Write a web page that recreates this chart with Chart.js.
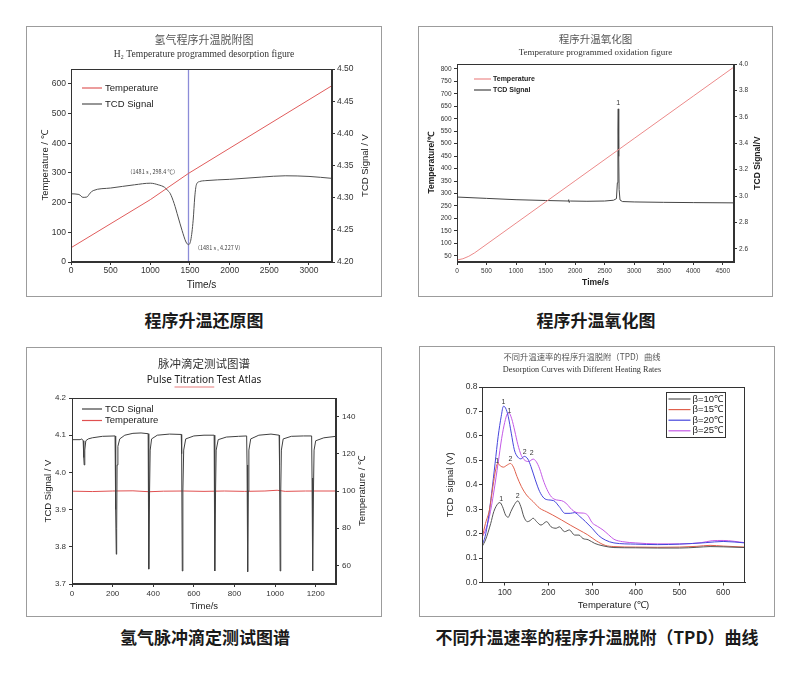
<!DOCTYPE html>
<html lang="zh">
<head>
<meta charset="utf-8">
<title>程序升温图谱</title>
<script src="https://cdn.jsdelivr.net/npm/chart.js@4.4.1/dist/chart.umd.min.js"></script>
<style>
html,body{margin:0;padding:0;background:#fff;}
body{width:800px;height:675px;position:relative;overflow:hidden;}
.panel{position:absolute;}
.cap{position:absolute;width:360px;text-align:center;font-family:"Noto Sans CJK SC",sans-serif;font-weight:bold;font-size:17px;line-height:20px;color:#1a1a1a;}
</style>
</head>
<body>
<div class="panel" style="left:26px;top:26px;width:356px;height:271px"><canvas id="c1"></canvas></div>
<div class="panel" style="left:418px;top:26px;width:355px;height:271px"><canvas id="c2"></canvas></div>
<div class="panel" style="left:26px;top:347px;width:356px;height:270px"><canvas id="c3"></canvas></div>
<div class="panel" style="left:419px;top:346px;width:356px;height:271px"><canvas id="c4"></canvas></div>
<div class="cap" style="left:24px;top:310px">程序升温还原图</div>
<div class="cap" style="left:416px;top:310px">程序升温氧化图</div>
<div class="cap" style="left:25px;top:627px">氢气脉冲滴定测试图谱</div>
<div class="cap" style="left:417px;top:627px">不同升温速率的程序升温脱附（TPD）曲线</div>
<script>
// ================= DATA =================
// Panel 1 : H2 TPD
const p1XTicks = [0, 500, 1000, 1500, 2000, 2500, 3000];
const p1YTicks = [0, 100, 200, 300, 400, 500, 600];
const p1Y1Ticks = [4.20, 4.25, 4.30, 4.35, 4.40, 4.45, 4.50];
const p1TempTime = [0, 1000, 1481, 3290];
const p1Temp = [48, 210, 298.4, 594];
const p1TcdTime = [0,100,150,200,240,280,500,800,1000,1100,1180,1220,1250,1300,1350,1400,1450,1481,1510,1540,1560,1580,1620,1700,2000,2400,2700,3000,3290];
const p1Tcd = [4.306,4.305,4.3005,4.301,4.307,4.311,4.315,4.320,4.3225,4.320,4.316,4.311,4.3066,4.291,4.270,4.249,4.231,4.227,4.234,4.265,4.301,4.320,4.325,4.3265,4.3285,4.332,4.334,4.333,4.330];
const p1PeakTime = 1481, p1PeakTemp = 298.4, p1PeakTcd = 4.227;

// Panel 2 : TPO
const p2XTicks = [0, 500, 1000, 1500, 2000, 2500, 3000, 3500, 4000, 4500];
const p2YTicks = [50,100,150,200,250,300,350,400,450,500,550,600,650,700,750,800];
const p2Y1Ticks = [2.6, 2.8, 3.0, 3.2, 3.4, 3.6, 3.8, 4.0];
const p2TempTime = [0,100,200,300,1000,2000,3000,4000,4690];
const p2Temp = [33,38,48,62,181,351,521,691,808];
const p2TcdTime = [0,500,1000,1500,1885,1892,1897,1903,1920,2200,2500,2650,2700,2715,2725,2730,2738,2745,2760,2800,3000,3500,4000,4690];
const p2Tcd = [2.992,2.982,2.972,2.966,2.962,2.972,2.952,2.958,2.962,2.960,2.962,2.968,2.98,3.1,3.5,3.66,3.3,3.05,2.97,2.958,2.955,2.952,2.95,2.948];
const p2PeakTime = 2730, p2PeakTcd = 3.66;

// Panel 3 : pulse titration
const p3XTicks = [0, 200, 400, 600, 800, 1000, 1200];
const p3YTicks = [3.7, 3.8, 3.9, 4.0, 4.1, 4.2];
const p3Y1Ticks = [60, 80, 100, 120, 140];
const p3Time = [0,40,48,55,58,60,63,68,80,100,150,212,214,216,218,220,222,226,235,260,300,340,375,377,379,382,385,392,420,480,538,540,543,546,550,560,600,650,700,702,704,707,710,720,760,820,860,862,865,868,871,880,920,980,1020,1022,1025,1028,1031,1040,1080,1140,1180,1182,1184,1186,1189,1192,1200,1240,1300];
const p3Tcd = [4.088,4.088,4.09,4.085,4.04,4.02,4.06,4.085,4.09,4.093,4.097,4.098,4.08,3.90,3.78,3.85,4.02,4.07,4.09,4.10,4.105,4.106,4.104,4.0,3.74,3.95,4.06,4.09,4.10,4.103,4.102,4.05,3.735,3.95,4.06,4.09,4.098,4.10,4.10,4.0,3.735,3.95,4.06,4.088,4.095,4.097,4.098,4.02,3.733,3.95,4.06,4.09,4.10,4.103,4.10,4.02,3.735,3.95,4.06,4.09,4.097,4.098,4.098,3.985,3.98,3.735,3.95,4.06,4.085,4.093,4.097];
const p3TempTime = [0,100,200,300,380,450,550,650,750,850,950,1010,1050,1150,1300];
const p3Temp = [99.9,99.7,100.0,100.1,99.6,99.9,100.0,99.8,100.0,99.8,100.0,100.4,99.8,100.0,100.0];

// Panel 4 : TPD at different heating rates
const p4XTicks = [100, 200, 300, 400, 500, 600];
const p4YTicks = [0.0, 0.1, 0.2, 0.3, 0.4, 0.5, 0.6, 0.7, 0.8];
const p4Labels = ['β=10℃', 'β=15℃', 'β=20℃', 'β=25℃'];
const p4T10 = [48,56,68,75,85,89,95,102,108,114,122,130,137,144,152,158,165,173,183,196,206,218,225,237,248,260,270,279,291,306,325,350,400,450,500,540,570,600,650];
const p4S10 = [0.146,0.174,0.242,0.29,0.324,0.327,0.31,0.276,0.267,0.29,0.318,0.334,0.31,0.268,0.249,0.253,0.263,0.249,0.235,0.249,0.228,0.222,0.228,0.208,0.215,0.194,0.194,0.18,0.175,0.16,0.15,0.143,0.142,0.141,0.141,0.144,0.147,0.146,0.143];
const p4T15 = [48,56,65,73,80,84,90,97,105,113,120,128,138,150,165,180,195,210,230,250,270,290,310,330,350,400,450,500,540,570,600,650];
const p4S15 = [0.18,0.242,0.297,0.393,0.468,0.488,0.477,0.472,0.48,0.487,0.472,0.434,0.393,0.358,0.331,0.304,0.29,0.276,0.256,0.235,0.215,0.195,0.17,0.152,0.147,0.145,0.144,0.145,0.148,0.152,0.149,0.145];
const p4T20 = [48,55,62,70,78,85,92,97,102,108,115,122,130,137,145,153,160,170,180,190,200,212,225,238,250,260,272,285,300,315,330,350,400,450,500,560,600,650];
const p4S20 = [0.153,0.187,0.256,0.365,0.488,0.598,0.68,0.721,0.714,0.68,0.611,0.543,0.513,0.506,0.516,0.505,0.475,0.42,0.372,0.345,0.338,0.335,0.31,0.283,0.283,0.286,0.27,0.249,0.222,0.192,0.174,0.162,0.157,0.155,0.157,0.163,0.168,0.162];
const p4T25 = [48,55,65,75,85,93,100,106,110,116,123,130,138,146,155,165,172,180,188,197,207,218,230,240,250,258,268,280,290,300,312,325,338,350,370,400,450,500,550,575,600,650];
const p4S25 = [0.185,0.21,0.27,0.37,0.49,0.59,0.655,0.69,0.693,0.67,0.62,0.565,0.52,0.5,0.495,0.505,0.495,0.465,0.42,0.38,0.35,0.338,0.335,0.325,0.305,0.292,0.285,0.284,0.275,0.245,0.23,0.215,0.195,0.177,0.167,0.162,0.158,0.158,0.163,0.171,0.172,0.163];
// peak markers: [label, temperature, signal] anchors
const p4Peaks = [['1',91.7,0.343],['2',129.7,0.352],['1',82.6,0.498],['2',113,0.506],['1',97,0.74],['2',146,0.534],['1',110.6,0.70],['2',162,0.528]];

// ================= HELPERS =================
const SANS = '"Liberation Sans", Arial, sans-serif';
const SERIF = '"Liberation Serif", "Times New Roman", serif';
const CJK = '"Noto Sans CJK SC", sans-serif';
const xy = (xs, ys) => xs.map((x, i) => ({x, y: ys[i]}));

function heads(t1, f1, c1, t2, f2, c2, top, col1, col2) {
  const lh1 = f1.size * 1.2, lh2 = f2.size * 1.2;
  const pt1 = c1 - lh1 / 2, top2 = c2 - lh2 / 2;
  return {
    title: {display: true, text: t1, font: Object.assign({lineHeight: 1.2, weight: 'normal'}, f1), color: col1,
            padding: {top: pt1, bottom: top2 - pt1 - lh1}},
    subtitle: {display: true, text: t2, font: Object.assign({lineHeight: 1.2, weight: 'normal'}, f2), color: col2,
               padding: {top: 0, bottom: top - top2 - lh2}}
  };
}

function axis(o) {
  const horiz = o.pos === 'bottom';
  const ax = {
    type: 'linear', position: o.pos, min: o.min, max: o.max,
    afterBuildTicks: s => { s.ticks = o.ticks.map(v => ({value: v})); },
    afterFit: s => { if (horiz) s.height = o.size; else s.width = o.size; },
    grid: {drawOnChartArea: false, drawTicks: true, tickLength: o.tl || 3, color: '#333', lineWidth: 1},
    border: {display: true, color: '#333', width: 1},
    ticks: {font: {size: o.fs, family: SANS}, color: '#333', padding: o.pad || 2, maxRotation: 0,
            autoSkip: false, callback: o.fmt || (v => String(v))},
    title: {display: false}
  };
  if (o.title) {
    ax.title = {display: true, text: o.title, color: '#222',
                font: {size: o.tfs, family: SANS, weight: o.tw || 'normal', lineHeight: 1.2},
                padding: horiz ? {top: 0, bottom: o.tpad} : {top: o.tpad, bottom: 0}};
  }
  return ax;
}

const deco = {
  id: 'deco',
  afterDraw(chart, args, o) {
    const ctx = chart.ctx, a = chart.chartArea;
    ctx.save();
    ctx.strokeStyle = '#9c9c9c'; ctx.lineWidth = 1;
    ctx.strokeRect(0.5, 0.5, chart.width - 1, chart.height - 1);
    ctx.strokeStyle = '#333';
    ctx.strokeRect(Math.round(a.left) + 0.5, Math.round(a.top) + 0.5, Math.round(a.right - a.left) - 1, Math.round(a.bottom - a.top) - 1);
    if (o.rightTitle) {
      const r = o.rightTitle;
      ctx.save();
      ctx.translate(r.x, (a.top + a.bottom) / 2);
      ctx.rotate(-Math.PI / 2);
      ctx.font = r.font; ctx.fillStyle = '#222';
      ctx.textAlign = 'center'; ctx.textBaseline = 'middle';
      ctx.fillText(r.text, 0, 0);
      ctx.restore();
    }
    if (o.underline) {
      // red spell-check style underline under one word of the subtitle
      const u = o.underline, st = chart.options.plugins.subtitle;
      ctx.font = st.font.size + 'px ' + st.font.family;
      const full = ctx.measureText(st.text).width;
      const pre = ctx.measureText(u.before).width;
      const w = ctx.measureText(u.word).width;
      const x0 = chart.width / 2 - full / 2 + pre;
      ctx.strokeStyle = '#e05a5a'; ctx.lineWidth = 0.8;
      ctx.beginPath(); ctx.moveTo(x0, u.y); ctx.lineTo(x0 + w, u.y); ctx.stroke();
    }
    if (o.legend) {
      const L = o.legend;
      if (L.box) {
        ctx.strokeStyle = '#333'; ctx.lineWidth = 1;
        ctx.strokeRect(Math.round(a.left + L.box[0]) + 0.5, Math.round(a.top + L.box[1]) + 0.5, L.box[2], L.box[3]);
      }
      ctx.font = L.font; ctx.textAlign = 'left'; ctx.textBaseline = 'middle';
      L.order.forEach((di, i) => {
        const ds = chart.data.datasets[di];
        const y = a.top + L.y + i * L.dy;
        ctx.strokeStyle = ds.borderColor; ctx.lineWidth = 1.2;
        ctx.beginPath(); ctx.moveTo(a.left + L.x1, y); ctx.lineTo(a.left + L.x2, y); ctx.stroke();
        ctx.fillStyle = '#222';
        ctx.fillText(ds.label, a.left + L.tx, y);
      });
    }
    (o.notes || []).forEach(n => {
      const xs = chart.scales[n.xAxis || 'x'], ys = chart.scales[n.yAxis || 'y'];
      ctx.font = n.font; ctx.fillStyle = n.color || '#333';
      ctx.textAlign = n.align || 'center'; ctx.textBaseline = 'middle';
      ctx.fillText(n.text, xs.getPixelForValue(n.x) + (n.dx || 0), ys.getPixelForValue(n.y) + (n.dy || 0));
    });
    ctx.restore();
  }
};

const base = (plugins, scales, padding) => ({
  responsive: true, maintainAspectRatio: false, animation: false,
  layout: {padding: padding || 0},
  plugins: Object.assign({legend: {display: false}, tooltip: {enabled: false}}, plugins),
  scales
});
const line = (label, data, color, yAxisID, extra) => Object.assign({
  label, data, yAxisID, borderColor: color, backgroundColor: color, borderWidth: 1, pointRadius: 0, fill: false
}, extra || {});

// ================= PANEL 1 =================
new Chart(document.getElementById('c1'), {
  type: 'line',
  data: {datasets: [
    line('Temperature', xy(p1TempTime, p1Temp), '#e05c5c', 'y'),
    line('TCD Signal', xy(p1TcdTime, p1Tcd), '#505050', 'y1', {cubicInterpolationMode: 'monotone'}),
    line('marker', [{x: p1PeakTime, y: 0}, {x: p1PeakTime, y: 650}], '#8c8cd8', 'y', {borderWidth: 1.3})
  ]},
  options: base(Object.assign(
    heads('氢气程序升温脱附图', {size: 11, family: CJK}, 14,
          'H₂ Temperature programmed desorption figure', {size: 9.6, family: SERIF}, 28, 43, '#555', '#333'),
    {deco: {
      rightTitle: {text: 'TCD Signal / V', x: 339, font: '9.5px ' + SANS},
      legend: {order: [0, 1], x1: 11, x2: 31, tx: 34, y: 19, dy: 16, font: '9.5px ' + SANS},
      notes: [
        {text: '（' + p1PeakTime + ' s , ' + p1PeakTemp + ' ℃）', x: p1PeakTime, y: p1PeakTemp, dx: -10, dy: -1.5, align: 'right', font: '5.5px ' + CJK, color: '#444'},
        {text: '（' + p1PeakTime + ' s , ' + p1PeakTcd + ' V）', x: p1PeakTime, y: p1PeakTcd, yAxis: 'y1', dx: 6, dy: 3.5, align: 'left', font: '5.5px ' + CJK, color: '#444'}
      ]
    }}),
    {
      x: axis({pos: 'bottom', min: 0, max: 3290, ticks: p1XTicks, size: 35, fs: 8.5, pad: 1, title: 'Time/s', tfs: 10, tpad: 6}),
      y: axis({pos: 'left', min: 0, max: 650, ticks: p1YTicks, size: 45, fs: 8.5, pad: 2, title: 'Temperature / ℃', tfs: 9.5, tpad: 14}),
      y1: axis({pos: 'right', min: 4.20, max: 4.50, ticks: p1Y1Ticks, size: 50, fs: 8.5, pad: 2, fmt: v => v.toFixed(2)})
    }),
  plugins: [deco]
});

// ================= PANEL 2 =================
new Chart(document.getElementById('c2'), {
  type: 'line',
  data: {datasets: [
    line('Temperature', xy(p2TempTime, p2Temp), '#ec8a8a', 'y'),
    line('TCD Signal', xy(p2TcdTime, p2Tcd), '#444', 'y1')
  ]},
  options: base(Object.assign(
    heads('程序升温氧化图', {size: 10.5, family: CJK}, 13,
          'Temperature programmed oxidation figure', {size: 9, family: SERIF}, 27, 38, '#555', '#333'),
    {deco: {
      rightTitle: {text: 'TCD Signal/V', x: 340, font: 'bold 8.5px ' + SANS},
      legend: {order: [0, 1], x1: 17, x2: 34, tx: 36, y: 15, dy: 11, font: 'bold 7px ' + SANS},
      notes: [{text: '1', x: p2PeakTime, y: p2PeakTcd, yAxis: 'y1', dy: -6, font: '7px ' + SANS}]
    }}),
    {
      x: axis({pos: 'bottom', min: 0, max: 4690, ticks: p2XTicks, size: 35, fs: 6.5, pad: 2, title: 'Time/s', tfs: 8.5, tw: 'bold', tpad: 9}),
      y: axis({pos: 'left', min: 25, max: 820, ticks: p2YTicks, size: 39, fs: 6.5, pad: 2.5, title: 'Temperature/℃', tfs: 8.5, tw: 'bold', tpad: 9}),
      y1: axis({pos: 'right', min: 2.5, max: 4.0, ticks: p2Y1Ticks, size: 39, fs: 6.5, pad: 2, fmt: v => v.toFixed(1)})
    }),
  plugins: [deco]
});

// ================= PANEL 3 =================
new Chart(document.getElementById('c3'), {
  type: 'line',
  data: {datasets: [
    line('TCD Signal', xy(p3Time, p3Tcd), '#404040', 'y'),
    line('Temperature', xy(p3TempTime, p3Temp), '#e05050', 'y1')
  ]},
  options: base(Object.assign(
    heads('脉冲滴定测试图谱', {size: 11.5, family: CJK}, 17,
          'Pulse Titration Test Atlas', {size: 10, family: '"Noto Sans", sans-serif'}, 33, 51, '#333', '#222'),
    {deco: {
      rightTitle: {text: 'Temperature / ℃', x: 336, font: '9.5px ' + SANS},
      legend: {order: [0, 1], x1: 10, x2: 30, tx: 33, y: 11, dy: 11.5, font: '9.5px ' + SANS},
      underline: {before: 'Pulse ', word: 'Titration', y: 40}
    }}),
    {
      x: axis({pos: 'bottom', min: 0, max: 1300, ticks: p3XTicks, size: 33, fs: 8, pad: 2, title: 'Time/s', tfs: 9.5, tpad: 5.3}),
      y: axis({pos: 'left', min: 3.7, max: 4.2, ticks: p3YTicks, size: 46, fs: 8, pad: 3, title: 'TCD Signal / V', tfs: 9.5, tpad: 16.3, fmt: v => v.toFixed(1)}),
      y1: axis({pos: 'right', min: 50, max: 150, ticks: p3Y1Ticks, size: 46, fs: 8, pad: 3})
    }),
  plugins: [deco]
});

// ================= PANEL 4 =================
const p4Colors = ['#555555', '#e0604c', '#4646dc', '#c45ae6'];
new Chart(document.getElementById('c4'), {
  type: 'line',
  data: {datasets: [
    line(p4Labels[0], xy(p4T10, p4S10), p4Colors[0], 'y', {cubicInterpolationMode: 'monotone'}),
    line(p4Labels[1], xy(p4T15, p4S15), p4Colors[1], 'y', {cubicInterpolationMode: 'monotone'}),
    line(p4Labels[2], xy(p4T20, p4S20), p4Colors[2], 'y', {cubicInterpolationMode: 'monotone'}),
    line(p4Labels[3], xy(p4T25, p4S25), p4Colors[3], 'y', {cubicInterpolationMode: 'monotone'})
  ]},
  options: base(Object.assign(
    heads('不同升温速率的程序升温脱附（TPD）曲线', {size: 8.3, family: CJK}, 11,
          'Desorption Curves with Different Heating Rates', {size: 8.2, family: SERIF}, 24, 41, '#555', '#333'),
    {deco: {
      legend: {order: [0, 1, 2, 3], box: [184, 5, 59, 45], x1: 186.5, x2: 208.5, tx: 210.5, y: 12, dy: 10.6, font: '9.5px ' + SANS},
      notes: p4Peaks.map(p => ({text: p[0], x: p[1], y: p[2], font: '7px ' + SANS, color: '#333'}))
    }}),
    {
      x: axis({pos: 'bottom', min: 48, max: 650, ticks: p4XTicks, size: 34.5, fs: 8.5, pad: 2, title: 'Temperature (℃)', tfs: 9.5, tpad: 6.3}),
      y: axis({pos: 'left', min: 0, max: 0.8, ticks: p4YTicks, size: 63, fs: 8.5, pad: 1.5, title: 'TCD  signal (V)', tfs: 9.5, tpad: 25.3, fmt: v => v.toFixed(1)})
    },
    {left: 0, right: 30, top: 0, bottom: 0}),
  plugins: [deco]
});
</script>
</body>
</html>
